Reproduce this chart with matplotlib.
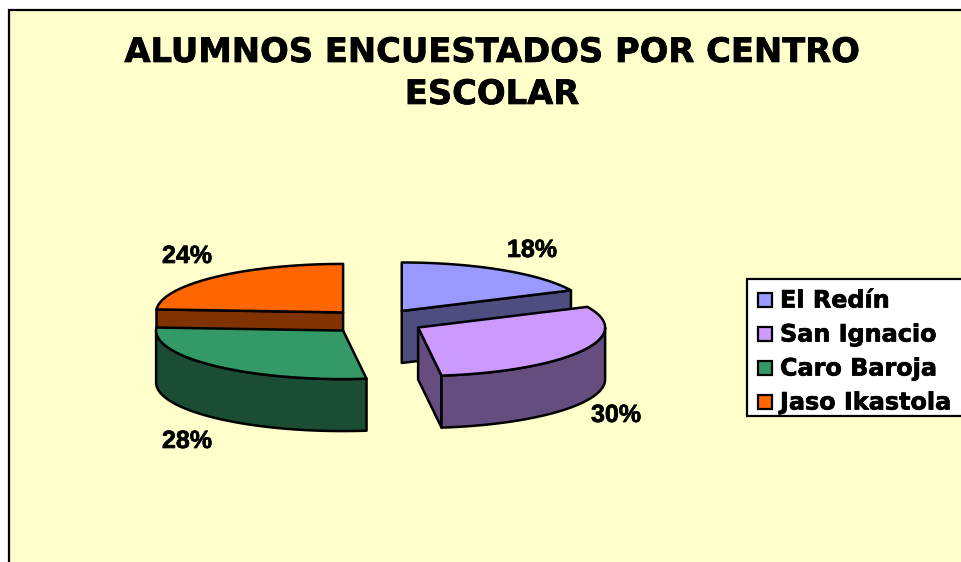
import numpy as np
import matplotlib
matplotlib.use("Agg")
import matplotlib.pyplot as plt
import matplotlib.patheffects as pe
from matplotlib.patches import Rectangle

# datos
centros = ["El Redín", "San Ignacio", "Caro Baroja", "Jaso Ikastola"]
valores = [18, 30, 28, 24]
col_top = ["#9999FF", "#CC99FF", "#339966", "#FF6600"]
col_side = ["#4D4D80", "#664D80", "#1A4D33", "#803300"]
titulo = "ALUMNOS ENCUESTADOS POR CENTRO\nESCOLAR"

# geometria de la tarta (pixeles de la imagen)
CX, CY = 376, 321.5
A, B = 187, 48.5
PROF = 52
EXPL = 0.257
LW = 1.8

grueso = [pe.withStroke(linewidth=0.5, foreground="black")]


def punto(cx, cy, ang):
    return cx + A * np.sin(ang), cy - B * np.cos(ang)


def arco(cx, cy, a0, a1):
    t = np.linspace(a0, a1, 60)
    return cx + A * np.sin(t), cy - B * np.cos(t)


fig = plt.figure(figsize=(9.61, 5.62), dpi=100, facecolor="white")
ax = fig.add_axes([0, 0, 1, 1])
ax.set_xlim(0, 961)
ax.set_ylim(562, 0)
ax.axis("off")

ax.add_patch(Rectangle((9, 10), 970, 570, fc="#FFFFCC", ec="black", lw=1.6))

for txt, yb in zip(titulo.split("\n"), [62, 104]):
    ax.text(492, yb, txt, ha="center", va="baseline", fontsize=24.3,
            fontweight="bold", family="DejaVu Sans", path_effects=grueso)

# angulos desde las 12 en sentido horario
total = sum(valores)
bordes = np.cumsum([0] + valores) / total * 2 * np.pi

# orden de dibujo: de atras hacia delante en cada mitad
for i in [3, 2, 0, 1]:
    a0, a1 = bordes[i], bordes[i + 1]
    am = (a0 + a1) / 2
    cx = CX + EXPL * A * np.sin(am)
    cy = CY - EXPL * B * np.cos(am)

    # paredes de corte visibles
    for ang, visible in [(a0, np.sin(a0) < -1e-6), (a1, np.sin(a1) > 1e-6)]:
        if visible:
            px, py = punto(cx, cy, ang)
            ax.fill([cx, px, px, cx], [cy, py, py + PROF, cy + PROF],
                    fc=col_side[i], ec="black", lw=LW, joinstyle="round")

    # pared exterior (solo la parte frontal)
    f0, f1 = max(a0, np.pi / 2), min(a1, 3 * np.pi / 2)
    if f1 > f0:
        x, y = arco(cx, cy, f0, f1)
        ax.fill(np.r_[x, x[::-1]], np.r_[y, y[::-1] + PROF],
                fc=col_side[i], ec="black", lw=LW, joinstyle="round")

    # cara superior
    x, y = arco(cx, cy, a0, a1)
    ax.fill(np.r_[cx, x], np.r_[cy, y], fc=col_top[i], ec="black", lw=LW,
            joinstyle="round")

# etiquetas de porcentaje
pos_pct = [(507, 257), (591, 422), (162, 448), (162, 263)]
for v, (px, py) in zip(valores, pos_pct):
    ax.text(px, py, f"{v}%", ha="left", va="baseline", fontsize=18,
            fontweight="bold", family="Liberation Sans", path_effects=grueso)

# leyenda
ax.add_patch(Rectangle((747, 279), 230, 137, fc="white", ec="black", lw=1.6, zorder=5))
for i, nom in enumerate(centros):
    y0 = 292.5 + 34 * i
    ax.add_patch(Rectangle((757.5, y0), 14, 14, fc=col_top[i], ec="black", lw=1.6, zorder=6))
    ax.text(780, y0 + 15, nom, ha="left", va="baseline", fontsize=17.2,
            fontweight="bold", family="DejaVu Sans", zorder=6, path_effects=grueso)

fig.savefig("out.png", dpi=100, facecolor="white")
